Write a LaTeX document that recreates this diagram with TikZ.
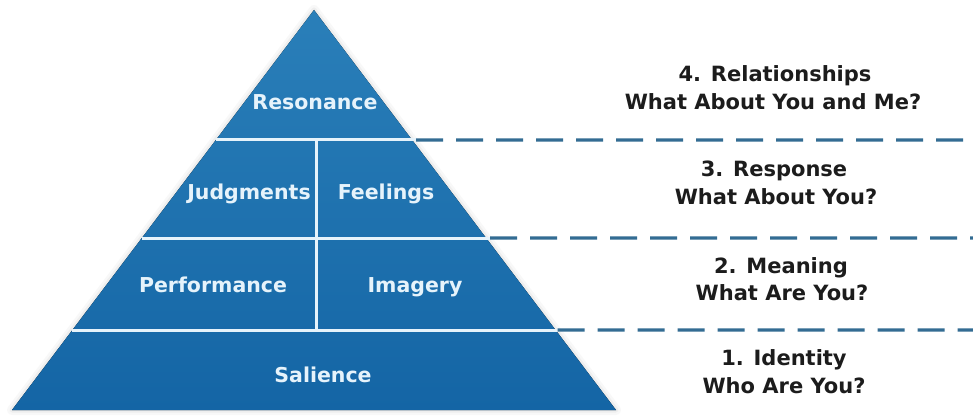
\documentclass[tikz,border=0pt]{standalone}
\usepackage{fontspec}
\setmainfont{DejaVu Sans}
\usetikzlibrary{calc}
\definecolor{pyrtop}{HTML}{2A7FB9}
\definecolor{pyrbot}{HTML}{1465A5}
\definecolor{sepcol}{HTML}{E6F3FB}
\definecolor{dashblue}{HTML}{336C93}
\definecolor{ink}{HTML}{1C1C1C}
\begin{document}
\begin{tikzpicture}[x=1pt,y=-1pt,
  lvl/.style={font=\bfseries\fontsize{20.5}{24}\selectfont, text=sepcol, inner sep=0pt, anchor=base},
  sidetext/.style={font=\bfseries\fontsize{21}{25}\selectfont, text=ink, inner sep=0pt, anchor=base},
  divider/.style={draw=sepcol, line width=3pt},
  levelline/.style={draw=dashblue, line width=3.3pt, dash pattern=on 27pt off 13pt},
  glow/.style={draw=gray, line join=round},
]
\useasboundingbox (0,0) rectangle (973,419);
\fill[white] (0,0) rectangle (973,419);

\coordinate (apex) at (314,10);
\coordinate (bl) at (12,410);
\coordinate (br) at (616,410);

% soft shadow
\draw[glow, line width=10pt, opacity=0.05] (apex) -- (br) -- (bl) -- cycle;
\draw[glow, line width=5pt, opacity=0.08] (apex) -- (br) -- (bl) -- cycle;

% pyramid body
\fill[top color=pyrtop, bottom color=pyrbot] (apex) -- (br) -- (bl) -- cycle;

% level edge points
\coordinate (l1) at ($(apex)!0.325!(bl)$);
\coordinate (r1) at ($(apex)!0.325!(br)$);
\coordinate (l2) at ($(apex)!0.57!(bl)$);
\coordinate (r2) at ($(apex)!0.57!(br)$);
\coordinate (l3) at ($(apex)!0.8!(bl)$);
\coordinate (r3) at ($(apex)!0.8!(br)$);
\coordinate (r1e) at ($(r1)+(4,0)$);
\coordinate (r2e) at ($(r2)+(4,0)$);
\coordinate (r3e) at ($(r3)+(2,0)$);
\coordinate (v1) at (316,140);
\coordinate (v3) at (316,330);
\coordinate (e1) at (973,140);
\coordinate (e2) at (973,238);
\coordinate (e3) at (973,330);

% white dividers
\draw[divider] (l1) -- (r1e);
\draw[divider] (l2) -- (r2e);
\draw[divider] (l3) -- (r3e);
\draw[divider] (v1) -- (v3);

% dashed level lines
\draw[levelline] (r1e) -- (e1);
\draw[levelline] (r2e) -- (e2);
\draw[levelline] (r3e) -- (e3);

% pyramid labels
\node[lvl] (resonance) at (315,110) {Resonance};
\node[lvl] (judgments) at (249,200) {Judgments};
\node[lvl] (feelings) at (386,200) {Feelings};
\node[lvl] (performance) at (213,292) {Performance};
\node[lvl] (imagery) at (415,292) {Imagery};
\node[lvl] (salience) at (323,382) {Salience};

% side texts
\node[sidetext] (t4a) at (775,82) {4. Relationships};
\node[sidetext] (t4b) at (773,110) {What About You and Me?};
\node[sidetext] (t3a) at (774,177) {3. Response};
\node[sidetext] (t3b) at (776,205) {What About You?};
\node[sidetext] (t2a) at (781,273) {2. Meaning};
\node[sidetext] (t2b) at (782,300) {What Are You?};
\node[sidetext] (t1a) at (784,365) {1. Identity};
\node[sidetext] (t1b) at (784,393) {Who Are You?};
\end{tikzpicture}
\end{document}
